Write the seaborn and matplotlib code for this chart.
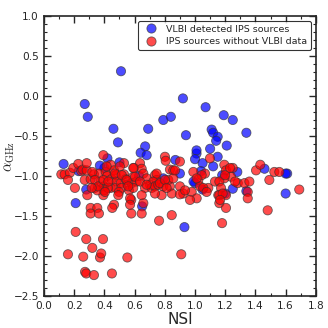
import numpy as np
import pandas as pd
import matplotlib
matplotlib.use("Agg")
import matplotlib.pyplot as plt
from matplotlib.ticker import MultipleLocator
import seaborn as sns

################### data ###################

vlbi_nsi = [0.51, 0.27, 0.29, 0.46, 0.49, 0.92, 0.79, 0.84, 0.69, 0.94,
            0.67, 0.64, 0.68, 1.07, 1.19, 1.25, 1.11, 1.12, 1.15, 1.34,
            1.14, 1.10, 1.21, 1.01, 0.13, 0.21, 0.28, 0.40, 0.23, 0.50,
            0.63, 0.87, 0.90, 0.93, 0.65, 0.42, 0.79, 1.01, 1.00, 1.15,
            1.05, 1.12, 1.28, 1.18, 1.46, 1.61, 1.60, 1.60, 1.34, 1.25,
            1.00, 1.05, 1.20, 0.37, 1.04, 0.99]
vlbi_alpha = [0.31, -0.10, -0.26, -0.41, -0.58, -0.03, -0.30, -0.26, -0.41, -0.49,
              -0.63, -0.71, -0.74, -0.14, -0.24, -0.30, -0.42, -0.46, -0.51, -0.46,
              -0.56, -0.66, -0.62, -0.72, -0.85, -1.34, -1.17, -0.90, -0.94, -0.83,
              -1.00, -0.80, -0.97, -1.64, -1.38, -0.78, -1.03, -0.68, -0.79, -0.76,
              -0.84, -0.88, -0.95, -0.99, -0.91, -0.97, -0.97, -1.22, -1.19, -1.16,
              -1.09, -1.17, -1.22, -0.87, -0.94, -1.07]

ips_nsi = [0.115, 0.137, 0.172, 0.159, 0.194, 0.227, 0.247, 0.205, 0.256, 0.283,
           0.287, 0.270, 0.309, 0.331, 0.336, 0.364, 0.375, 0.393, 0.409, 0.397,
           0.419, 0.442, 0.464, 0.448, 0.442, 0.475, 0.481, 0.475, 0.508, 0.530,
           0.541, 0.552, 0.563, 0.578, 0.578, 0.530, 0.503, 0.309, 0.353, 0.309,
           0.364, 0.464, 0.452, 0.393, 0.397, 0.512, 0.497, 0.353, 0.424,
           0.801, 0.806, 0.834, 0.856, 0.900, 0.596, 0.636, 0.647, 0.591, 0.581,
           0.614, 0.658, 0.680, 0.702, 0.669, 0.735, 0.746, 0.724, 0.713, 0.735,
           0.757, 0.790, 0.779, 0.834, 0.846, 0.823, 0.856, 0.900, 0.922, 0.900,
           0.978, 0.989, 1.022, 1.033, 1.066, 1.044, 1.099, 1.132, 1.088, 1.011,
           0.658, 0.647, 0.846, 0.570, 0.570, 0.591, 1.154,
           1.194, 1.205, 1.250, 1.238, 1.194, 1.161, 1.172, 1.161, 1.205, 1.183,
           1.161, 1.205, 1.283, 1.327, 1.360, 1.349, 1.349, 1.404, 1.432, 1.492,
           1.525, 1.558, 1.690, 1.481,
           0.210, 0.280, 0.391, 0.320, 0.159, 0.260, 0.371, 0.379, 0.552, 0.909,
           0.272, 0.280, 0.331, 0.450, 0.762, 1.179,
           0.320, 0.338, 0.360, 0.393, 0.426, 0.470, 0.515, 0.548, 0.591, 0.603,
           0.636, 0.680, 0.746, 0.768, 0.492, 0.404, 0.316, 0.647, 0.735, 0.415,
           0.283, 0.868, 0.801, 0.812, 0.934, 1.011, 1.055, 1.077, 1.199, 1.265,
           0.967, 1.166, 1.232, 0.558]
ips_alpha = [-0.98, -0.98, -0.96, -1.05, -0.90, -0.85, -0.94, -1.15, -0.92, -0.93,
             -1.24, -1.05, -1.04, -0.98, -1.15, -0.97, -1.07, -0.74, -0.95, -1.13,
             -1.00, -0.86, -0.93, -1.04, -1.15, -0.99, -1.07, -1.15, -1.09, -0.98,
             -1.04, -1.11, -1.18, -1.30, -1.47, -0.84, -0.88, -1.40, -1.40, -1.47,
             -1.47, -1.36, -1.40, -1.24, -1.18, -1.15, -1.20, -1.18, -1.15,
             -0.76, -0.81, -0.92, -0.93, -0.82, -0.90, -0.84, -0.91, -1.01, -1.09,
             -1.07, -0.97, -1.03, -1.11, -1.15, -0.99, -1.05, -1.07, -1.15, -1.13,
             -1.11, -1.13, -1.24, -1.13, -1.22, -1.05, -1.03, -1.13, -1.22, -1.23,
             -1.20, -0.95, -1.05, -1.13, -0.97, -0.99, -0.78, -1.07, -1.15, -1.28,
             -1.34, -1.47, -1.49, -1.28, -1.36, -1.15, -1.24,
             -0.86, -0.93, -0.90, -1.01, -1.03, -1.07, -1.15, -1.24, -1.24, -1.22,
             -1.34, -1.40, -1.09, -1.09, -1.07, -1.20, -1.28, -0.93, -0.86, -1.05,
             -0.95, -0.95, -1.17, -1.43,
             -1.70, -1.79, -1.79, -1.90, -1.98, -2.01, -2.02, -1.97, -2.02, -1.98,
             -2.20, -2.22, -2.24, -2.22, -1.56, -1.59,
             -0.95, -1.05, -1.13, -1.05, -1.07, -0.97, -0.99, -1.05, -0.90, -1.01,
             -1.07, -1.11, -0.97, -1.09, -1.24, -1.20, -1.15, -1.24, -1.22, -0.88,
             -0.84, -0.93, -1.05, -1.15, -1.18, -1.03, -1.15, -1.20, -0.99, -1.07,
             -1.30, -1.30, -0.90, -1.13]

labels = ["VLBI detected IPS sources", "IPS sources without VLBI data"]

df = pd.concat([
    pd.DataFrame({"NSI": vlbi_nsi, "alpha": vlbi_alpha, "group": labels[0]}),
    pd.DataFrame({"NSI": ips_nsi, "alpha": ips_alpha, "group": labels[1]}),
], ignore_index=True)

################### plot ###################

sns.set_style("ticks")
plt.rcParams["font.family"] = ["DejaVu Sans"]
plt.rcParams["mathtext.fontset"] = "cm"
plt.rcParams["xtick.direction"] = "in"
plt.rcParams["ytick.direction"] = "in"
plt.rcParams["xtick.top"] = True
plt.rcParams["ytick.right"] = True

fig = plt.figure(figsize=(3.28, 3.28), dpi=100)
ax = fig.add_axes([0.134, 0.098, 0.829, 0.853])

sns.scatterplot(data=df, x="NSI", y="alpha", hue="group", hue_order=labels,
                palette={labels[0]: "#0000ff", labels[1]: "#ff0000"},
                s=44, alpha=0.7, edgecolor="#333333", linewidth=0.6, ax=ax)

ax.set_xlim(0.0, 1.8)
ax.set_ylim(-2.5, 1.0)
ax.xaxis.set_major_locator(MultipleLocator(0.2))
ax.xaxis.set_minor_locator(MultipleLocator(0.1))
ax.yaxis.set_major_locator(MultipleLocator(0.5))
ax.yaxis.set_minor_locator(MultipleLocator(0.1))
ax.tick_params(which="major", length=5, width=1, labelsize=7.6, top=True, right=True)
ax.tick_params(which="minor", length=2.5, width=0.8, top=True, right=True)
for sp in ax.spines.values():
    sp.set_linewidth(1.2)

ax.set_xlabel("NSI", fontsize=11, labelpad=1)
ax.set_ylabel(r"$\alpha_{\rm GHz}$", fontsize=10.5)
ax.yaxis.set_label_coords(-0.1, 0.5)

leg = ax.legend(loc="upper right", fontsize=6.8, frameon=True, fancybox=True,
                edgecolor="black", handletextpad=0.6, borderpad=0.4,
                labelspacing=0.4, markerscale=1.0)
leg.get_frame().set_linewidth(0.8)

fig.savefig("out.png", dpi=100)
